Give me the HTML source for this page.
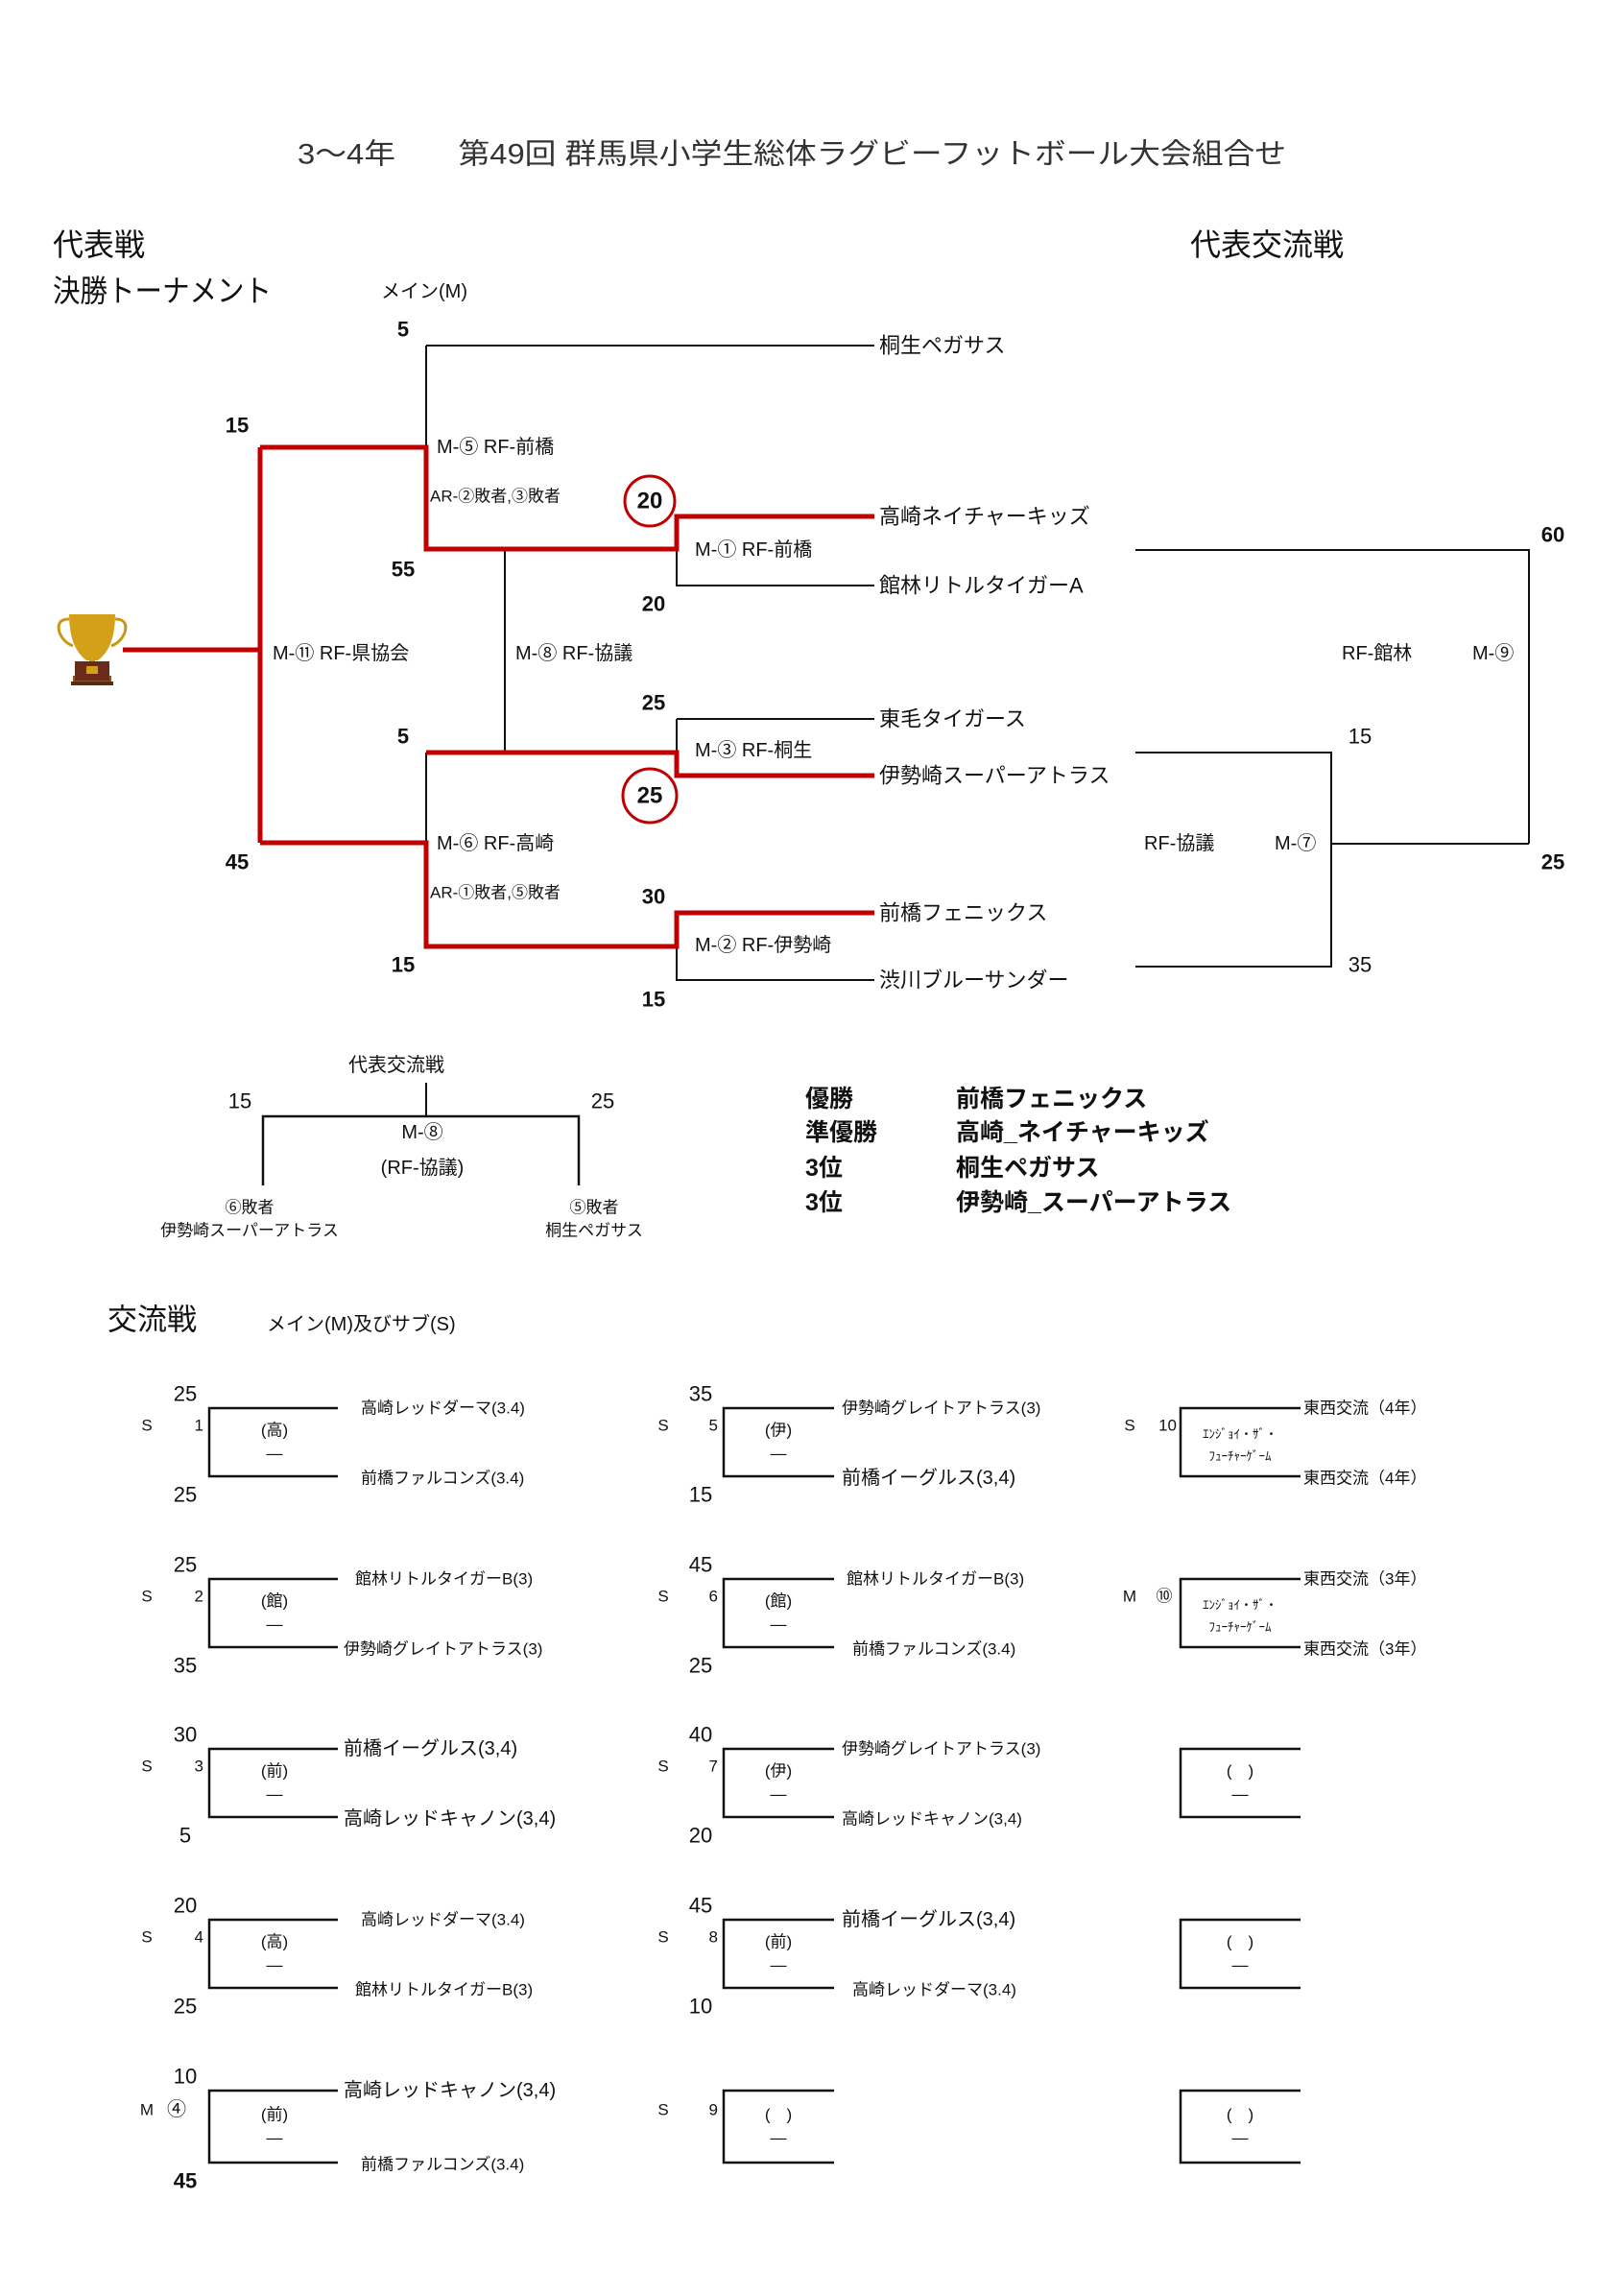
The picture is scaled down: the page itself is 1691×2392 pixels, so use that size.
<!DOCTYPE html>
<html><head><meta charset="utf-8"><style>
html,body{margin:0;padding:0;background:#fff}
svg{display:block}
text{font-family:"Liberation Sans","Noto Sans CJK JP",sans-serif;fill:#111;dominant-baseline:central}
.t{font-size:22px}.b{font-weight:bold}.s{font-size:20px}.xs{font-size:17px}.m{text-anchor:middle}.e{text-anchor:end}
.k{stroke:#111;stroke-width:2;fill:none}.r{stroke:#c00000;stroke-width:5;fill:none}
</style></head><body>
<svg width="1691" height="2392" viewBox="0 0 1691 2392" xmlns="http://www.w3.org/2000/svg">
<text x="310" y="161" style="font-size:30px;fill:#333" textLength="1030" lengthAdjust="spacingAndGlyphs">3～4年　　第49回  群馬県小学生総体ラグビーフットボール大会組合せ</text>
<text x="55" y="255" style="font-size:32px">代表戦</text>
<text x="55" y="303" style="font-size:32px" textLength="228" lengthAdjust="spacingAndGlyphs">決勝トーナメント</text>
<text x="397" y="304" class="s">メイン(M)</text>
<text x="1240" y="255" style="font-size:32px">代表交流戦</text>

<path class="k" d="M444,360 H911 M444,360 V466 M444,784 V878 M705,572 V610 H911 M526,572 V784 M705,749 H911 M705,749 V784 M705,986 V1021 H911 M1183,573 H1593 V879 M1183,784 H1387 V1007 H1183 M1387,879 H1593"/>
<path class="r" d="M128,677 H271 M271,466 V878 M271,466 H444 V572 H705 V538 H911 M271,878 H444 V986 H705 V951 H911 M444,784 H705 V808 H911"/>
<circle cx="677" cy="522" r="26" fill="#fff" stroke="#c00000" stroke-width="3"/>
<circle cx="677" cy="829" r="28" fill="#fff" stroke="#c00000" stroke-width="3"/>

<g>
<path d="M72,640 h48 q0,35 -18,48 l-3,0 l0,12 l8,6 h-22 l8,-6 l0,-12 l-3,0 q-18,-13 -18,-48z" fill="#d4a017"/>
<path d="M72,645 q-14,0 -10,14 q4,10 14,14" stroke="#c8961a" stroke-width="3" fill="none"/>
<path d="M120,645 q14,0 10,14 q-4,10 -14,14" stroke="#c8961a" stroke-width="3" fill="none"/>
<rect x="76" y="704" width="40" height="6" fill="#8a5a10"/>
<rect x="74" y="710" width="44" height="4" fill="#5a2a10"/>
<rect x="78" y="689" width="36" height="20" fill="#6b2b1a"/>
<rect x="90" y="694" width="12" height="8" fill="#d4a017"/>
</g>

<text x="420" y="343" class="t b m">5</text>
<text x="247" y="443" class="t b m">15</text>
<text x="420" y="593" class="t b m">55</text>
<text x="677" y="522" class="t b m" style="font-size:24px">20</text>
<text x="681" y="629" class="t b m">20</text>
<text x="1618" y="557" class="t b m">60</text>
<text x="681" y="732" class="t b m">25</text>
<text x="420" y="767" class="t b m">5</text>
<text x="1417" y="767" class="t m">15</text>
<text x="677" y="829" class="t b m" style="font-size:24px">25</text>
<text x="247" y="898" class="t b m">45</text>
<text x="1618" y="898" class="t b m">25</text>
<text x="681" y="934" class="t b m">30</text>
<text x="420" y="1005" class="t b m">15</text>
<text x="1417" y="1005" class="t m">35</text>
<text x="681" y="1041" class="t b m">15</text>

<text x="455" y="466" class="s">M-⑤  RF-前橋</text>
<text x="448" y="517" class="xs">AR-②敗者,③敗者</text>
<text x="724" y="573" class="s">M-①   RF-前橋</text>
<text x="284" y="681" class="s">M-⑪  RF-県協会</text>
<text x="537" y="681" class="s">M-⑧  RF-協議</text>
<text x="1398" y="681" class="s">RF-館林</text>
<text x="1534" y="681" class="s">M-⑨</text>
<text x="724" y="782" class="s">M-③   RF-桐生</text>
<text x="455" y="879" class="s">M-⑥  RF-高崎</text>
<text x="448" y="930" class="xs">AR-①敗者,⑤敗者</text>
<text x="1192" y="879" class="s">RF-協議</text>
<text x="1328" y="879" class="s">M-⑦</text>
<text x="724" y="985" class="s">M-②   RF-伊勢崎</text>

<text x="916" y="360" class="t">桐生ペガサス</text>
<text x="916" y="538" class="t">高崎ネイチャーキッズ</text>
<text x="916" y="610" class="t">館林リトルタイガーA</text>
<text x="916" y="749" class="t">東毛タイガース</text>
<text x="916" y="808" class="t">伊勢崎スーパーアトラス</text>
<text x="916" y="951" class="t">前橋フェニックス</text>
<text x="916" y="1021" class="t">渋川ブルーサンダー</text>

<text x="413" y="1110" class="s m">代表交流戦</text>
<path d="M444,1128 V1163" class="k"/>
<path d="M274,1235 V1163 H603 V1235" stroke="#111" stroke-width="2.5" fill="none"/>
<text x="250" y="1147" class="t m">15</text>
<text x="628" y="1147" class="t m">25</text>
<text x="440" y="1180" class="s m">M-⑧</text>
<text x="440" y="1217" class="s m">(RF-協議)</text>
<text x="260" y="1258" class="xs m">⑥敗者</text>
<text x="260" y="1282" class="xs m">伊勢崎スーパーアトラス</text>
<text x="619" y="1258" class="xs m">⑤敗者</text>
<text x="619" y="1282" class="xs m">桐生ペガサス</text>

<text x="839" y="1145" class="t b" style="font-size:25px">優勝</text>
<text x="839" y="1180" class="t b" style="font-size:25px">準優勝</text>
<text x="839" y="1217" class="t b" style="font-size:25px">3位</text>
<text x="839" y="1253" class="t b" style="font-size:25px">3位</text>
<text x="996" y="1145" class="t b" style="font-size:25px">前橋フェニックス</text>
<text x="996" y="1180" class="t b" style="font-size:25px">高崎_ネイチャーキッズ</text>
<text x="996" y="1217" class="t b" style="font-size:25px">桐生ペガサス</text>
<text x="996" y="1253" class="t b" style="font-size:25px">伊勢崎_スーパーアトラス</text>

<text x="112" y="1375" style="font-size:31px">交流戦</text>
<text x="278" y="1380" class="s">メイン(M)及びサブ(S)</text>

<path stroke="#111" stroke-width="2.5" fill="none" d="
M352,1467 H218 V1538 H352 M869,1467 H754 V1538 H869 M1355,1467 H1230 V1538 H1355
M352,1645 H218 V1716 H352 M869,1645 H754 V1716 H869 M1355,1645 H1230 V1716 H1355
M352,1822 H218 V1893 H352 M869,1822 H754 V1893 H869 M1355,1822 H1230 V1893 H1355
M352,2000 H218 V2071 H352 M869,2000 H754 V2071 H869 M1355,2000 H1230 V2071 H1355
M352,2178 H218 V2253 H352 M869,2178 H754 V2253 H869 M1355,2178 H1230 V2253 H1355"/>

<text x="153" y="1485" class="xs m">S</text><text x="212" y="1485" class="xs e">1</text>
<text x="193" y="1452" class="t m">25</text><text x="193" y="1557" class="t m">25</text>
<text x="286" y="1490" class="xs m">(高)</text><text x="286" y="1514" class="xs m">—</text>
<text x="376" y="1467" class="xs">高崎レッドダーマ(3.4)</text><text x="376" y="1540" class="xs">前橋ファルコンズ(3.4)</text>
<text x="691" y="1485" class="xs m">S</text><text x="748" y="1485" class="xs e">5</text>
<text x="730" y="1452" class="t m">35</text><text x="730" y="1557" class="t m">15</text>
<text x="811" y="1490" class="xs m">(伊)</text><text x="811" y="1514" class="xs m">—</text>
<text x="877" y="1467" class="xs">伊勢崎グレイトアトラス(3)</text><text x="877" y="1540" class="s">前橋イーグルス(3,4)</text>
<text x="1177" y="1485" class="xs m">S</text><text x="1226" y="1485" class="xs e">10</text>
<text x="1292" y="1494" class="m" style="font-size:13px">ｴﾝｼﾞｮｲ・ｻﾞ・</text><text x="1292" y="1517" class="m" style="font-size:13px">ﾌｭｰﾁｬｰｹﾞｰﾑ</text>
<text x="1358" y="1467" class="xs">東西交流（4年）</text><text x="1358" y="1540" class="xs">東西交流（4年）</text>

<text x="153" y="1663" class="xs m">S</text><text x="212" y="1663" class="xs e">2</text>
<text x="193" y="1630" class="t m">25</text><text x="193" y="1735" class="t m">35</text>
<text x="286" y="1668" class="xs m">(館)</text><text x="286" y="1692" class="xs m">—</text>
<text x="370" y="1645" class="xs">館林リトルタイガーB(3)</text><text x="358" y="1718" class="xs">伊勢崎グレイトアトラス(3)</text>
<text x="691" y="1663" class="xs m">S</text><text x="748" y="1663" class="xs e">6</text>
<text x="730" y="1630" class="t m">45</text><text x="730" y="1735" class="t m">25</text>
<text x="811" y="1668" class="xs m">(館)</text><text x="811" y="1692" class="xs m">—</text>
<text x="882" y="1645" class="xs">館林リトルタイガーB(3)</text><text x="888" y="1718" class="xs">前橋ファルコンズ(3.4)</text>
<text x="1177" y="1663" class="xs m">M</text><text x="1213" y="1663" class="xs m">⑩</text>
<text x="1292" y="1672" class="m" style="font-size:13px">ｴﾝｼﾞｮｲ・ｻﾞ・</text><text x="1292" y="1695" class="m" style="font-size:13px">ﾌｭｰﾁｬｰｹﾞｰﾑ</text>
<text x="1358" y="1645" class="xs">東西交流（3年）</text><text x="1358" y="1718" class="xs">東西交流（3年）</text>

<text x="153" y="1840" class="xs m">S</text><text x="212" y="1840" class="xs e">3</text>
<text x="193" y="1807" class="t m">30</text><text x="193" y="1912" class="t m">5</text>
<text x="286" y="1845" class="xs m">(前)</text><text x="286" y="1869" class="xs m">—</text>
<text x="358" y="1822" class="s">前橋イーグルス(3,4)</text><text x="358" y="1895" class="s">高崎レッドキャノン(3,4)</text>
<text x="691" y="1840" class="xs m">S</text><text x="748" y="1840" class="xs e">7</text>
<text x="730" y="1807" class="t m">40</text><text x="730" y="1912" class="t m">20</text>
<text x="811" y="1845" class="xs m">(伊)</text><text x="811" y="1869" class="xs m">—</text>
<text x="877" y="1822" class="xs">伊勢崎グレイトアトラス(3)</text><text x="877" y="1895" class="xs">高崎レッドキャノン(3,4)</text>
<text x="1292" y="1845" class="xs m">(　)</text><text x="1292" y="1869" class="xs m">—</text>

<text x="153" y="2018" class="xs m">S</text><text x="212" y="2018" class="xs e">4</text>
<text x="193" y="1985" class="t m">20</text><text x="193" y="2090" class="t m">25</text>
<text x="286" y="2023" class="xs m">(高)</text><text x="286" y="2047" class="xs m">—</text>
<text x="376" y="2000" class="xs">高崎レッドダーマ(3.4)</text><text x="370" y="2073" class="xs">館林リトルタイガーB(3)</text>
<text x="691" y="2018" class="xs m">S</text><text x="748" y="2018" class="xs e">8</text>
<text x="730" y="1985" class="t m">45</text><text x="730" y="2090" class="t m">10</text>
<text x="811" y="2023" class="xs m">(前)</text><text x="811" y="2047" class="xs m">—</text>
<text x="877" y="2000" class="s">前橋イーグルス(3,4)</text><text x="888" y="2073" class="xs">高崎レッドダーマ(3.4)</text>
<text x="1292" y="2023" class="xs m">(　)</text><text x="1292" y="2047" class="xs m">—</text>

<text x="153" y="2198" class="xs m">M</text><text x="184" y="2198" class="s m">④</text>
<text x="193" y="2163" class="t m">10</text><text x="193" y="2272" class="t b m">45</text>
<text x="286" y="2203" class="xs m">(前)</text><text x="286" y="2227" class="xs m">—</text>
<text x="358" y="2178" class="s">高崎レッドキャノン(3,4)</text><text x="376" y="2255" class="xs">前橋ファルコンズ(3.4)</text>
<text x="691" y="2198" class="xs m">S</text><text x="748" y="2198" class="xs e">9</text>
<text x="811" y="2203" class="xs m">(　)</text><text x="811" y="2227" class="xs m">—</text>
<text x="1292" y="2203" class="xs m">(　)</text><text x="1292" y="2227" class="xs m">—</text>
</svg>
</body></html>
